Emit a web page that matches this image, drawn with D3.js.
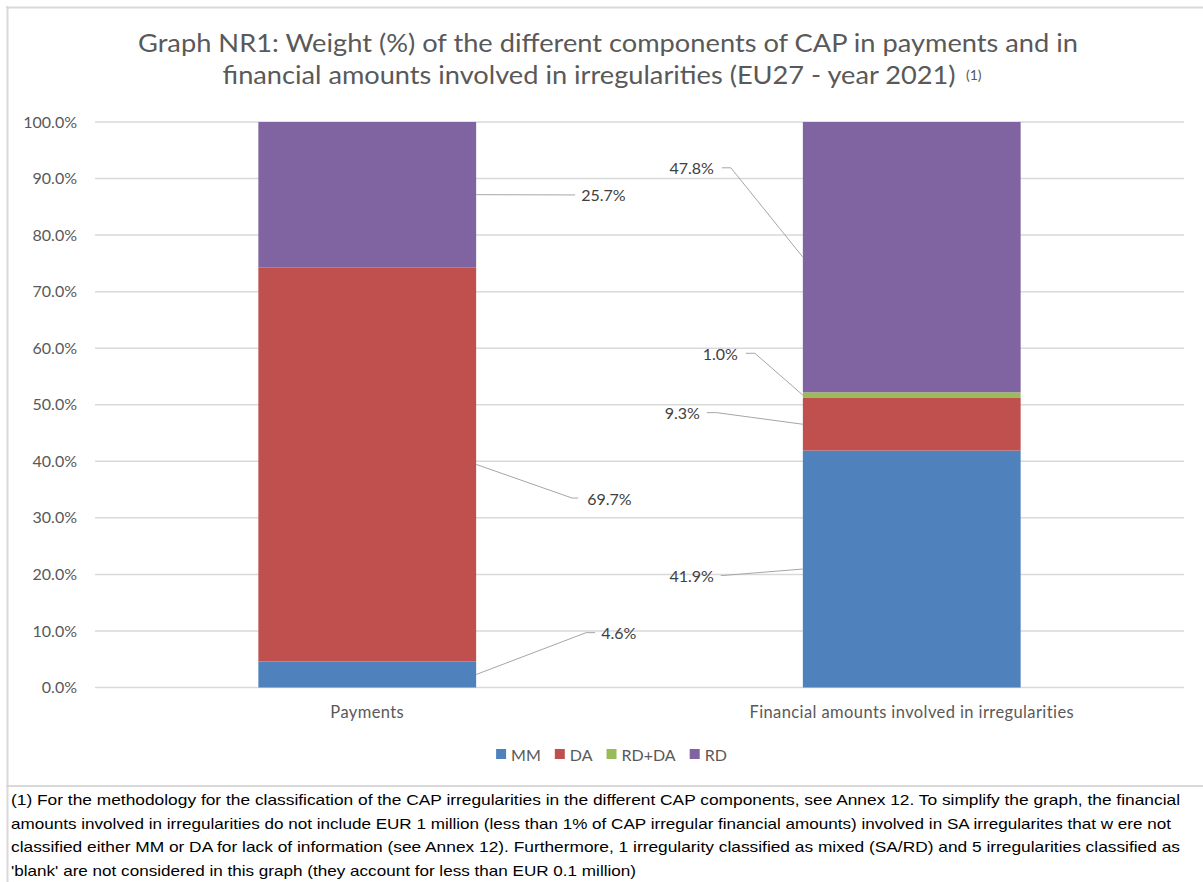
<!DOCTYPE html>
<html>
<head>
<meta charset="utf-8">
<script src="https://cdn.jsdelivr.net/npm/d3@7"></script>
<style>
  html, body { margin: 0; padding: 0; background: #ffffff; }
  svg { display: block; }
</style>
</head>
<body>
<svg id="chart" width="1203" height="882"></svg>
<script>
// ---------------- DATA ----------------
const categories = ["Payments", "Financial amounts involved in irregularities"];
const seriesNames = ["MM", "DA", "RD+DA", "RD"];
const mmValues   = [4.6, 41.9];
const daValues   = [69.7, 9.3];
const rdDaValues = [0, 1.0];
const rdValues   = [25.7, 47.8];
const yTickValues = [0, 10, 20, 30, 40, 50, 60, 70, 80, 90, 100];

const titleLines = [
  "Graph NR1: Weight (%) of the different components of CAP in payments and in",
  "financial amounts involved in irregularities (EU27 - year 2021)"
];
const titleNote = "(1)";
const footnoteLines = [
  "(1) For the methodology for the classification of the CAP irregularities in the different CAP components, see Annex 12. To simplify the graph, the financial",
  "amounts involved in irregularities do not include EUR 1 million (less than 1% of CAP irregular financial amounts) involved in SA irregularites that w ere not",
  "classified either MM or DA for lack of information (see Annex 12). Furthermore, 1 irregularity classified as mixed (SA/RD) and 5 irregularities classified as",
  "'blank' are not considered in this graph (they account for less than EUR 0.1 million)"
];

// ---------------- LAYOUT / STYLE ----------------
const colors = { "MM": "#4f81bd", "DA": "#c0504d", "RD+DA": "#9bbb59", "RD": "#8064a2" };
const plot = { left: 95, right: 1184, top: 122, bottom: 687.5 };
// label placement: side of bar, label position (in value units), leader offsets (px from bar edge)
const labelLayout = {
  "Payments|RD":    { side: "right", at: 87.1, bend: 99,  end: 99,  text: 105 },
  "Payments|DA":    { side: "right", at: 33.5, bend: 96,  end: 102, text: 111 },
  "Payments|MM":    { side: "right", at: 9.7,  bend: 110, end: 119, text: 125 },
  "Financial amounts involved in irregularities|RD":    { side: "left", at: 91.9, bend: -72, end: -81, text: -89 },
  "Financial amounts involved in irregularities|RD+DA": { side: "left", at: 59.1, bend: -48, end: -57, text: -65 },
  "Financial amounts involved in irregularities|DA":    { side: "left", at: 48.6, bend: -86, end: -96, text: -103 },
  "Financial amounts involved in irregularities|MM":    { side: "left", at: 19.8, bend: -80, end: -82, text: -89 }
};

const svg = d3.select("#chart");
const calibri = "Lato, 'Open Sans', sans-serif";
const arial = "'Liberation Sans', Arial, sans-serif";

// frame
svg.append("line").attr("x1", 7.5).attr("x2", 7.5).attr("y1", 6).attr("y2", 882)
  .attr("stroke", "#d9d9d9").attr("stroke-width", 2);
svg.append("line").attr("x1", 6).attr("x2", 1203).attr("y1", 7.5).attr("y2", 7.5)
  .attr("stroke", "#d9d9d9").attr("stroke-width", 2);
svg.append("line").attr("x1", 6).attr("x2", 1203).attr("y1", 786).attr("y2", 786)
  .attr("stroke", "#d9d9d9").attr("stroke-width", 2);

// title
const titleX = [138, 222.6];
const titleW = [940, 733];
const titleY = [52, 83.5];
titleLines.forEach((t, i) => {
  svg.append("text").attr("x", titleX[i]).attr("y", titleY[i])
    .attr("font-family", calibri).attr("font-size", 25).attr("fill", "#595959")
    .attr("textLength", titleW[i]).attr("lengthAdjust", "spacingAndGlyphs")
    .text(t);
});
svg.append("text").attr("x", 966).attr("y", 80)
  .attr("font-family", calibri).attr("font-size", 14).attr("fill", "#595959")
  .text(titleNote);

// scales
const x = d3.scaleBand().domain(categories).range([plot.left, plot.right])
  .paddingInner(0.6).paddingOuter(0.3);
const y = d3.scaleLinear().domain([0, 100]).range([plot.bottom, plot.top]);

// gridlines
svg.append("g").selectAll("line").data(yTickValues).join("line")
  .attr("x1", plot.left).attr("x2", plot.right)
  .attr("y1", d => y(d)).attr("y2", d => y(d))
  .attr("stroke", "#d9d9d9").attr("stroke-width", 1.5);

// y axis
const yAxis = svg.append("g").attr("transform", `translate(${plot.left},0)`)
  .call(d3.axisLeft(y).tickValues(yTickValues).tickSize(0).tickPadding(18)
    .tickFormat(d => d3.format(".1f")(d) + "%"));
yAxis.select(".domain").remove();
yAxis.selectAll("text").attr("font-family", calibri).attr("font-size", 16).attr("fill", "#595959");

// x axis
const xAxis = svg.append("g").attr("transform", `translate(0,${plot.bottom})`)
  .call(d3.axisBottom(x).tickSize(0).tickPadding(19));
xAxis.select(".domain").remove();
xAxis.selectAll("text").attr("font-family", calibri).attr("font-size", 16.5).attr("fill", "#595959")
  .attr("letter-spacing", 0.4);

// stacked data
const seriesValues = { "MM": mmValues, "DA": daValues, "RD+DA": rdDaValues, "RD": rdValues };
const table = categories.map((c, i) => {
  const row = { category: c };
  seriesNames.forEach(s => row[s] = seriesValues[s][i]);
  return row;
});
const stacked = d3.stack().keys(seriesNames)(table);

const layers = svg.append("g").selectAll("g").data(stacked).join("g")
  .attr("fill", d => colors[d.key]);
layers.selectAll("rect").data(d => d.map(p => Object.assign(p, { key: d.key })))
  .join("rect")
  .attr("x", d => x(d.data.category))
  .attr("width", x.bandwidth())
  .attr("y", d => y(d[1]))
  .attr("height", d => Math.max(0, y(d[0]) - y(d[1])));

// data labels with leader lines
const labelG = svg.append("g");
stacked.forEach(layer => {
  layer.forEach(p => {
    const v = p[1] - p[0];
    if (v <= 0) return;
    const lay = labelLayout[p.data.category + "|" + layer.key];
    if (!lay) return;
    const edge = lay.side === "right" ? x(p.data.category) + x.bandwidth() : x(p.data.category);
    const y0 = y((p[0] + p[1]) / 2);
    const yl = y(lay.at);
    labelG.append("path")
      .attr("d", `M${edge},${y0}L${edge + lay.bend},${yl}L${edge + lay.end},${yl}`)
      .attr("fill", "none").attr("stroke", "#a6a6a6").attr("stroke-width", 1);
    labelG.append("text")
      .attr("x", edge + lay.text).attr("y", yl)
      .attr("dominant-baseline", "central")
      .attr("text-anchor", lay.side === "right" ? "start" : "end")
      .attr("font-family", calibri).attr("font-size", 16).attr("fill", "#404040")
      .text(d3.format(".1f")(v) + "%");
  });
});

// legend
const legend = svg.append("g");
const legendY = 754;
let lx = 0;
const items = [];
seriesNames.forEach(s => {
  const g = legend.append("g");
  g.append("rect").attr("x", 0).attr("y", -5).attr("width", 10).attr("height", 10).attr("fill", colors[s]);
  const t = g.append("text").attr("x", 15).attr("y", 0).attr("dominant-baseline", "central")
    .attr("font-family", calibri).attr("font-size", 16).attr("fill", "#595959").text(s);
  const w = 15 + t.node().getComputedTextLength();
  items.push({ g, w });
});
const gap = 14;
const total = d3.sum(items, d => d.w) + gap * (items.length - 1);
lx = 611.5 - total / 2;
items.forEach(it => {
  it.g.attr("transform", `translate(${lx},${legendY})`);
  lx += it.w + gap;
});

// footnote
const footW = [1169, 1160, 1169, 625];
const footY = [805, 828.5, 852, 875.5];
footnoteLines.forEach((t, i) => {
  svg.append("text").attr("x", 11).attr("y", footY[i])
    .attr("font-family", arial).attr("font-size", 14.5).attr("fill", "#000000")
    .attr("textLength", footW[i]).attr("lengthAdjust", "spacingAndGlyphs")
    .text(t);
});
</script>
</body>
</html>
